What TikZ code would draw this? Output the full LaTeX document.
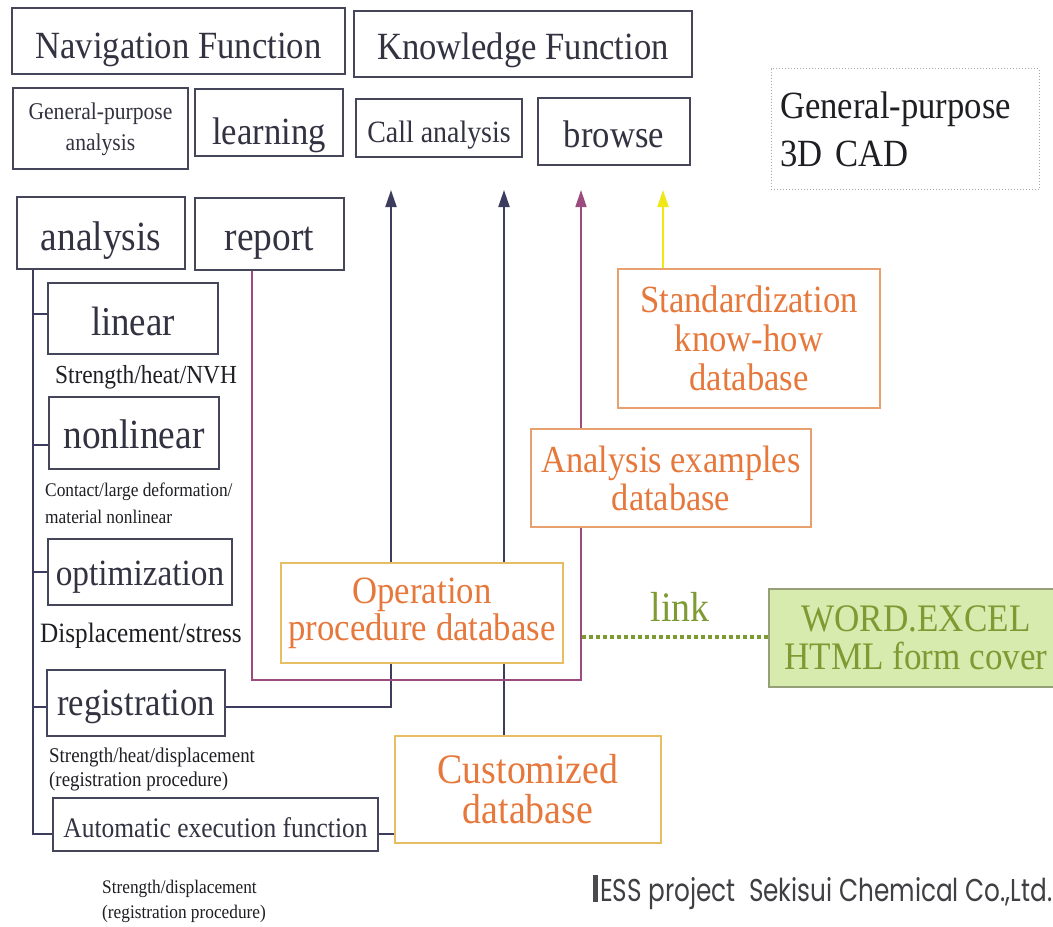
\documentclass[tikz,border=0pt]{standalone}
\usepackage{fontspec}
\setmainfont{Liberation Serif}[FakeStretch=0.9]
\newfontfamily\essfont{Poppins}
\usetikzlibrary{arrows.meta,calc}
\pgfdeclarelayer{paper}
\pgfdeclarelayer{bg}
\pgfsetlayers{paper,bg,main}
\definecolor{boxc}{RGB}{70,70,90}
\definecolor{txtc}{RGB}{50,50,65}
\definecolor{capc}{RGB}{30,30,35}
\definecolor{navyc}{RGB}{60,60,95}
\definecolor{magc}{RGB}{155,75,125}
\definecolor{yelc}{RGB}{240,232,20}
\definecolor{orT}{RGB}{230,120,60}
\definecolor{orB}{RGB}{232,190,100}
\definecolor{orB2}{RGB}{232,160,110}
\definecolor{grT}{RGB}{125,155,50}
\definecolor{grF}{RGB}{215,235,175}
\definecolor{grB}{RGB}{150,160,120}
\newcommand\fsz[2]{\fontsize{#1}{#2}\selectfont}
\begin{document}
\begin{tikzpicture}[x=1pt,y=-1pt,
  box/.style={draw=boxc, line width=1.4pt, fill=white, inner sep=0pt, text=txtc},
  tb/.style={text depth=0pt, text height=#1},
  obox/.style={draw=orB, line width=1.4pt, fill=white, inner sep=0pt, text=orT, align=center, font=\fsz{38.5}{39}},
  gbox/.style={draw=grB, line width=1.2pt, fill=grF, inner sep=0pt, text=grT, align=center, font=\fsz{39}{38}},
  cadbox/.style={draw=gray!70, dotted, line width=1pt, inner sep=0pt, text=capc},
  capt/.style={inner sep=0pt, text=capc},
  navyline/.style={draw=navyc, line width=2pt},
  magline/.style={draw=magc, line width=1.5pt},
  yelline/.style={draw=yelc, line width=2pt},
  linkline/.style={draw=grT, line width=4pt, dash pattern=on 4pt off 3pt},
  tip/.style={-{Triangle[width=11pt,length=17pt]}}
]
\useasboundingbox (0,0) rectangle (1053,927);
\begin{pgfonlayer}{paper}
\fill[white] (0,0) rectangle (1053,927);
\end{pgfonlayer}

% top boxes
\node[box, minimum width=333, minimum height=66, tb=34pt, font=\fsz{38.5}{40}] (nav) at (178.5,41) {Navigation Function};
\node[box, minimum width=338, minimum height=66, tb=30pt, font=\fsz{38.5}{40}] (know) at (523,44) {Knowledge Function};
\node[box, minimum width=175, minimum height=81, font=\fsz{24}{31}] (gpa) at (100.5,128.5) {\raisebox{-6pt}{\begin{tabular}{@{}c@{}}General-purpose\\analysis\end{tabular}}};
\node[box, minimum width=148, minimum height=67, tb=44pt, font=\fsz{38.5}{40}] (learn) at (269,122.5) {learning};
\node[box, minimum width=166, minimum height=58, tb=28pt, font=\fsz{31}{33}] (call) at (439,128) {Call analysis};
\node[box, minimum width=152, minimum height=67, tb=31pt, font=\fsz{38.5}{40}] (browse) at (614,131.5) {browse};
\node[cadbox, minimum width=268, minimum height=121, text width=250pt, align=left, font=\fsz{38.5}{48}] (cad) at (905,129) {General-purpose\\3D CAD};

% analysis tree
\node[box, minimum width=168, minimum height=72, tb=34pt, font=\fsz{41.5}{42}] (ana) at (101,233) {analysis};
\node[box, minimum width=149, minimum height=72, tb=32pt, font=\fsz{41.5}{42}] (rep) at (269.5,234) {report};
\node[box, minimum width=170, minimum height=71, tb=33pt, font=\fsz{41}{42}] (lin) at (133,318.5) {linear};
\node[capt, font=\fsz{26}{27}] (capnvh) at (146,377) {Strength/heat/NVH};
\node[box, minimum width=170, minimum height=72, tb=30pt, font=\fsz{41.5}{42}] (nonlin) at (134,433) {nonlinear};
\node[capt, font=\fsz{19.3}{27}, align=left, anchor=west] (capcont) at (45,503.5) {Contact/large deformation/\\material nonlinear};
\node[box, minimum width=184, minimum height=66, tb=26pt, font=\fsz{37}{38}] (opt) at (140,572) {optimization};
\node[capt, font=\fsz{28}{29}] (capdisp) at (141,636) {Displacement/stress};
\node[box, minimum width=178, minimum height=66, tb=24pt, font=\fsz{38.5}{40}] (reg) at (136,703) {registration};
\node[capt, font=\fsz{21}{24}, align=left, anchor=west] (capreg) at (49,769) {Strength/heat/displacement\\(registration procedure)};
\node[box, minimum width=325, minimum height=53, tb=25pt, font=\fsz{28.3}{30}] (auto) at (215.5,824.5) {Automatic execution function};
\node[capt, font=\fsz{19.2}{25}, align=left, anchor=west] (capbot) at (102,901) {Strength/displacement\\(registration procedure)};

% databases
\node[obox, draw=orB2, minimum width=262, minimum height=139] (std) at (749,338.5) {Standardization\\know-how\\database};
\node[obox, draw=orB2, minimum width=280, minimum height=98, font=\fsz{38.2}{38}] (anex) at (671,478) {Analysis examples\\database};
\node[obox, minimum width=282, minimum height=100, font=\fsz{38.6}{37}] (op) at (422,613) {Operation\\procedure database};
\node[obox, minimum width=266, minimum height=107, font=\fsz{42}{40}] (cust) at (528,789.5) {Customized\\database};
\node[gbox, minimum width=294, minimum height=98] (word) at (916,638) {WORD.EXCEL\\HTML form cover};
\node[inner sep=0pt, text=grT, font=\fsz{42}{42}] (link) at (680,607) {link};

% footer
\fill[capc!80] (593,875) rectangle (598,902);
\node[inner sep=0pt, anchor=base west, text=capc!85] (ess) at (600,901) {\resizebox{452pt}{24pt}{\essfont ESS project\ \ Sekisui Chemical Co.,Ltd.}};

% coordinates
\coordinate (trunk) at (33,269);
\coordinate (t1) at (391,190);
\coordinate (t2) at (504,190);
\coordinate (tb) at (581,190);
\coordinate (ty) at (663,190);
\coordinate (m1) at (252,680);
\coordinate (m2) at (581,680);
\coordinate (rg) at (0,707);
\coordinate (ac) at (0,834);
\coordinate (lk) at (0,637);
\coordinate (lks) at (582,637);

\begin{pgfonlayer}{bg}
  % tree
  \draw[navyline] (ana.south -| trunk) -- (trunk |- ac) -- (auto.west |- ac);
  \draw[navyline] ([yshift=5pt]lin.west -| trunk) -- ([yshift=5pt]lin.west);
  \draw[navyline] ([yshift=-12pt]nonlin.west -| trunk) -- ([yshift=-12pt]nonlin.west);
  \draw[navyline] (opt.west -| trunk) -- (opt.west);
  \draw[navyline] (reg.west |- rg) -- (trunk |- rg);
  % to knowledge function
  \draw[navyline, tip] (reg.east |- rg) -- (t1 |- rg) -- (t1);
  \draw[navyline, tip] (cust.north -| t2) -- (t2);
  \draw[navyline] (auto.east |- ac) -- (cust.west |- ac);
  \draw[magline, tip] (rep.south -| m1) -- (m1) -- (m2) -- (tb);
  \draw[yelline, tip] (std.north -| ty) -- (ty);
  \draw[linkline] (lks) -- (word.west |- lk);
\end{pgfonlayer}
\end{tikzpicture}
\end{document}
